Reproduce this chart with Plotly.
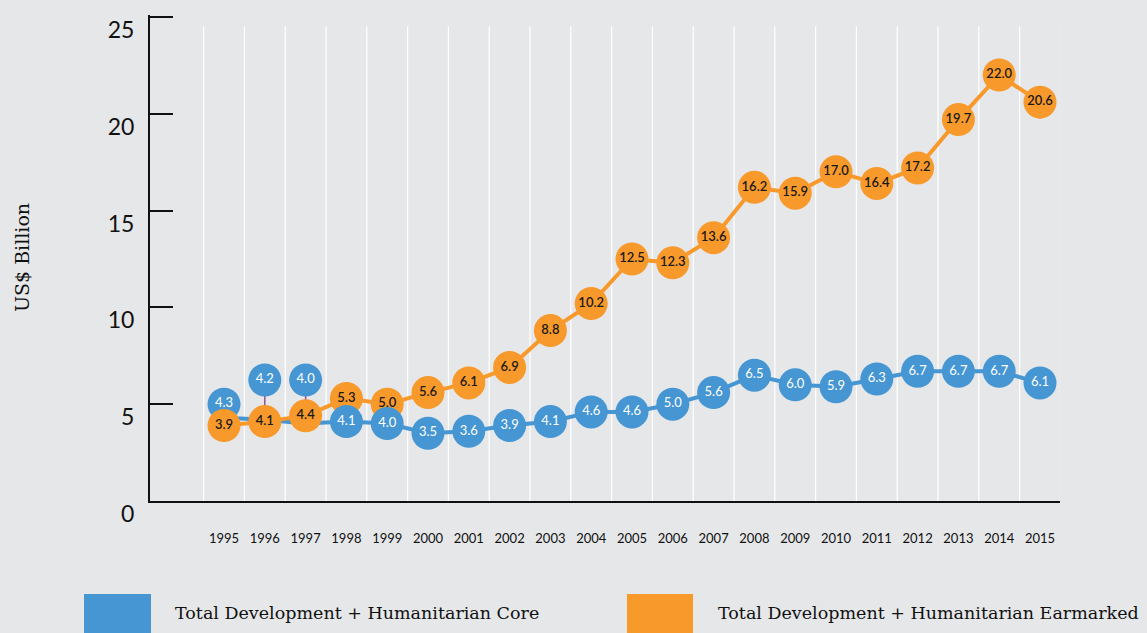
import plotly.graph_objects as go

years = list(range(1995, 2016))
core = [4.3, 4.2, 4.0, 4.1, 4.0, 3.5, 3.6, 3.9, 4.1, 4.6, 4.6, 5.0, 5.6, 6.5, 6.0, 5.9, 6.3, 6.7, 6.7, 6.7, 6.1]
earmarked = [3.9, 4.1, 4.4, 5.3, 5.0, 5.6, 6.1, 6.9, 8.8, 10.2, 12.5, 12.3, 13.6, 16.2, 15.9, 17.0, 16.4, 17.2, 19.7, 22.0, 20.6]
series_names = ["Total Development + Humanitarian Core", "Total Development + Humanitarian Earmarked"]
y_ticks = [0, 5, 10, 15, 20, 25]
# label lift (data units) for the first core markers, to avoid collisions
core_lift = [0.7, 2.05, 2.25]

BLUE = "#4596d3"
ORANGE = "#f8992b"
BG = "#e6e7e9"
n_lift = len(core_lift)

fig = go.Figure()

# connectors for lifted labels
for i, lift in enumerate(core_lift):
    fig.add_shape(type="line", x0=years[i], x1=years[i], y0=core[i], y1=core[i] + lift,
                  line=dict(color="#9a4d9a", width=1.5), layer="below")

# vertical white grid lines between years
for yr in years + [years[-1] + 1]:
    fig.add_shape(type="line", x0=yr - 0.5, x1=yr - 0.5, y0=0, y1=24.5,
                  line=dict(color="white", width=1.2), layer="below")

# core line (true values)
fig.add_trace(go.Scatter(x=years, y=core, mode="lines",
                         line=dict(color=BLUE, width=4), hoverinfo="skip", showlegend=False))
# lifted core markers
fig.add_trace(go.Scatter(x=years[:n_lift], y=[v + l for v, l in zip(core[:n_lift], core_lift)],
                         mode="markers+text", text=[f"{v:.1f}" for v in core[:n_lift]],
                         textposition="middle center",
                         textfont=dict(color="white", size=13, family="Lato"),
                         marker=dict(size=33, color=BLUE), showlegend=False))
# earmarked
fig.add_trace(go.Scatter(x=years, y=earmarked, mode="lines+markers+text",
                         text=[f"{v:.1f}" for v in earmarked], textposition="middle center",
                         textfont=dict(color="#1a1a1a", size=13, family="Lato", weight=600),
                         line=dict(color=ORANGE, width=4),
                         marker=dict(size=33, color=ORANGE), name=series_names[1], showlegend=False))
# remaining core markers
fig.add_trace(go.Scatter(x=years[n_lift:], y=core[n_lift:], mode="markers+text",
                         text=[f"{v:.1f}" for v in core[n_lift:]], textposition="middle center",
                         textfont=dict(color="white", size=13, family="Lato"),
                         marker=dict(size=33, color=BLUE), name=series_names[0], showlegend=False))

L, R, T, B = 150, 87, 15, 132
W, H = 1147, 633
pw, ph = W - L - R, H - T - B
def px_x(p):
    return (p - L) / pw
def px_y(p):
    return (H - B - p) / ph

fig.update_layout(
    width=W, height=H,
    margin=dict(l=L, r=R, t=T, b=B),
    paper_bgcolor=BG, plot_bgcolor=BG,
    showlegend=False,
    xaxis=dict(range=[years[0] - 1.814, years[-1] + 0.49], tickvals=years,
               ticktext=[str(y) for y in years], showgrid=False, zeroline=False,
               showline=True, linecolor="#111", linewidth=2, ticks="",
               ticklabelstandoff=24, tickfont=dict(family="Lato", size=13, color="#111")),
    yaxis=dict(range=[0, 25.1], tickvals=y_ticks, showgrid=False, zeroline=False,
               showline=True, linecolor="#111", linewidth=2, ticks="inside", ticklen=23,
               tickwidth=1.5, tickcolor="#111", ticklabelshift=13, ticklabelstandoff=9,
               tickfont=dict(family="Lato", size=23, color="#111")),
)

fig.add_annotation(text="US$ Billion", xref="paper", yref="paper", x=px_x(22), y=0.5,
                   xanchor="center", yanchor="middle",
                   textangle=-90, showarrow=False,
                   font=dict(family="DejaVu Serif", size=19, color="#111"))

legend_items = [(series_names[0], BLUE, 84, 151, 173), (series_names[1], ORANGE, 627, 693, 716)]
for name, col, x0, x1, tx in legend_items:
    fig.add_shape(type="rect", xref="paper", yref="paper", x0=px_x(x0), x1=px_x(x1),
                  y0=px_y(640), y1=px_y(594), fillcolor=col, line=dict(width=0))
    fig.add_annotation(text=name, xref="paper", yref="paper", x=px_x(tx), y=px_y(613),
                       xanchor="left", yanchor="middle", showarrow=False,
                       font=dict(family="DejaVu Serif", size=17.5, color="#111"))

fig.write_html("out.html", config={"displayModeBar": False},
               post_script="document.body.style.margin='0';document.body.style.background='%s';" % BG)
